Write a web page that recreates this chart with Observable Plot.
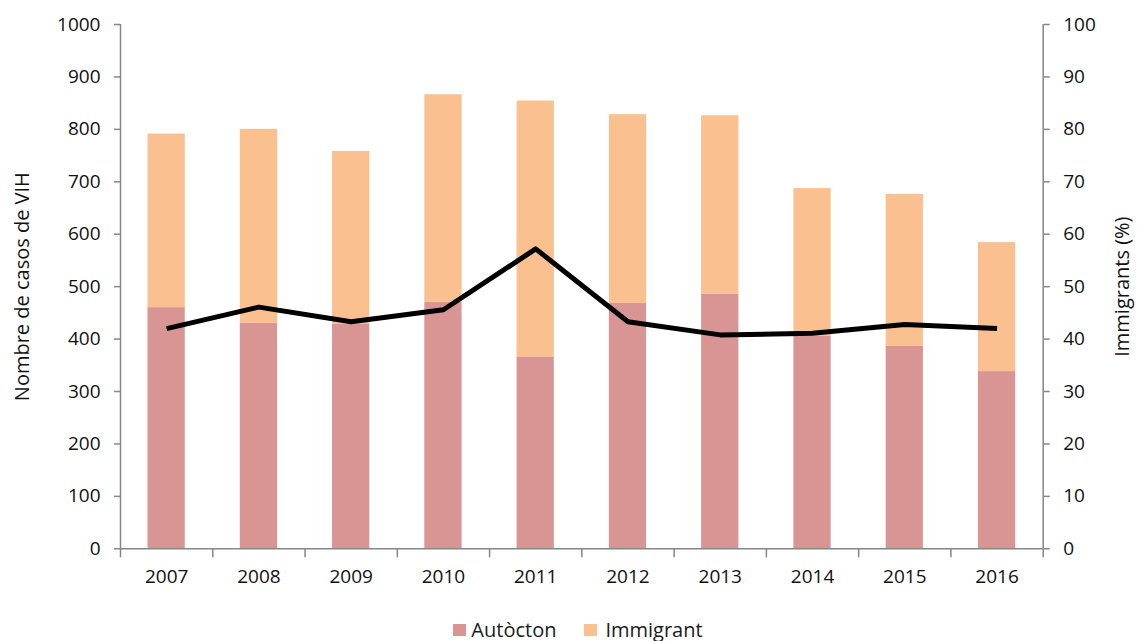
<!DOCTYPE html>
<html>
<head>
<meta charset="utf-8">
<script src="https://cdn.jsdelivr.net/npm/d3@7"></script>
<script src="https://cdn.jsdelivr.net/npm/@observablehq/plot@0.6"></script>
<style>
  html, body { margin: 0; padding: 0; background: #fff; }
  body { width: 1138px; height: 641px; overflow: hidden; font-family: "Open Sans", sans-serif; color: #1a1a1a; }
  #chart svg { display: block; }
  #legend { display: flex; justify-content: center; align-items: center; height: 26px; padding-top: 17px; margin-left: 18px; font-size: 20px; line-height: 26px; }
  .item { display: flex; align-items: center; }
  .sw { width: 13px; height: 12px; margin-right: 5px; }
  .item + .item { margin-left: 28px; }
  .item + .item .sw { margin-right: 8px; }
</style>
</head>
<body>
<div id="chart"></div>
<div id="legend"></div>
<script>
// ---- data ----
const years = [2007, 2008, 2009, 2010, 2011, 2012, 2013, 2014, 2015, 2016];
const autocton = [460, 430, 429, 470, 366, 468, 486, 405, 386, 338];
const immigrant = [331, 370, 329, 396, 488, 360, 340, 282, 290, 246];
const pctImmigrants = [42.0, 46.1, 43.3, 45.6, 57.2, 43.3, 40.8, 41.1, 42.8, 42.0];
const countTicks = [0, 100, 200, 300, 400, 500, 600, 700, 800, 900, 1000];
const pctTicks = [0, 10, 20, 30, 40, 50, 60, 70, 80, 90, 100];
const seriesNames = ["Autòcton", "Immigrant"];
const seriesColors = ["#D99594", "#FAC090"];
const yTitleLeft = "Nombre de casos de VIH";
const yTitleRight = "Immigrants (%)";

// ---- tables built from the arrays ----
const bars = [];
years.forEach((yr, i) => {
  bars.push({year: yr, series: seriesNames[0], y1: 0, y2: autocton[i]});
  bars.push({year: yr, series: seriesNames[1], y1: autocton[i], y2: autocton[i] + immigrant[i]});
});
const lineData = years.map((yr, i) => ({year: yr, pct: pctImmigrants[i]}));
const pctMax = pctTicks[pctTicks.length - 1];
const countMax = countTicks[countTicks.length - 1];
const pctToCount = v => v * countMax / pctMax;
const boundaries = [years[0] - 0.5, ...years.map(y => y + 0.5)];

const gray = "#868686";
const textColor = "#111";

const chart = Plot.plot({
  width: 1138,
  height: 600,
  marginLeft: 120,
  marginRight: 95.3,
  marginTop: 24,
  marginBottom: 51.7,
  style: {fontFamily: "Open Sans, sans-serif", fontSize: "19px", color: textColor, background: "#fff"},
  x: {type: "linear", domain: [years[0] - 0.5, years[years.length - 1] + 0.5]},
  y: {domain: [0, countMax]},
  color: {domain: seriesNames, range: seriesColors},
  marks: [
    Plot.rectY(bars, {
      x1: d => d.year - 0.5, x2: d => d.year + 0.5,
      y1: "y1", y2: "y2", fill: "series",
      insetLeft: 27.5, insetRight: 27.5
    }),
    Plot.line(lineData, {
      x: "year", y: d => pctToCount(d.pct),
      stroke: "#000", strokeWidth: 5, strokeLinejoin: "round", strokeLinecap: "butt"
    }),
    // axis lines
    Plot.ruleY([0], {stroke: gray, strokeWidth: 1.5}),
    Plot.ruleX([boundaries[0]], {stroke: gray, strokeWidth: 1.5}),
    Plot.ruleX([boundaries[boundaries.length - 1]], {stroke: gray, strokeWidth: 1.5}),
    // left axis
    Plot.axisY({
      anchor: "left", ticks: countTicks, tickSize: 6, tickPadding: 14,
      tickFormat: d => String(d), stroke: gray, fill: textColor, strokeWidth: 1.5,
      fontSize: 19, label: null
    }),
    Plot.axisY({
      anchor: "left", ticks: [], label: yTitleLeft, labelAnchor: "center",
      labelArrow: "none", labelOffset: 106, fontSize: 20, fill: textColor
    }),
    // right axis
    Plot.axisY({
      anchor: "right", ticks: countTicks, tickSize: 6, tickPadding: 14,
      tickFormat: d => String(d * pctMax / countMax), stroke: gray, fill: textColor, strokeWidth: 1.5,
      fontSize: 19, label: null
    }),
    Plot.axisY({
      anchor: "right", ticks: [], label: yTitleRight, labelAnchor: "center",
      labelArrow: "none", labelOffset: 86, fontSize: 20, fill: textColor
    }),
    // bottom axis: boundary ticks + year labels
    Plot.axisX({
      anchor: "bottom", ticks: boundaries, tickSize: 9, tickFormat: () => "",
      stroke: gray, strokeWidth: 1.5, label: null
    }),
    Plot.axisX({
      anchor: "bottom", ticks: years, tickSize: 0, tickPadding: 21,
      tickFormat: d => String(d), fill: textColor, fontSize: 19, label: null
    })
  ]
});
document.getElementById("chart").appendChild(chart);

// legend
const legend = document.getElementById("legend");
seriesNames.forEach((name, i) => {
  const item = document.createElement("div");
  item.className = "item";
  const sw = document.createElement("span");
  sw.className = "sw";
  sw.style.background = seriesColors[i];
  const label = document.createElement("span");
  label.textContent = name;
  item.appendChild(sw);
  item.appendChild(label);
  legend.appendChild(item);
});
</script>
</body>
</html>
